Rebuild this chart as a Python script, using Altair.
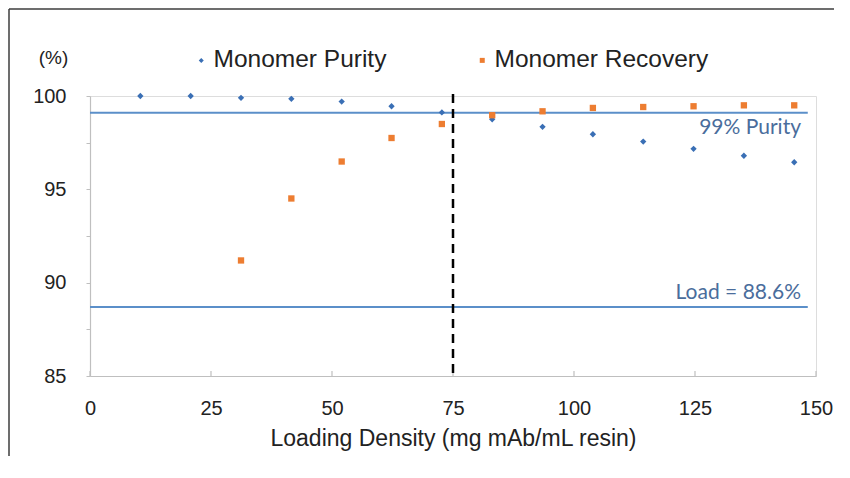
import altair as alt
import pandas as pd

# ---- data ----
loading = [10.4, 20.8, 31.2, 41.6, 52.0, 62.3, 72.7, 83.1, 93.5, 103.9, 114.3, 124.7, 135.1, 145.5]
purity = [100.0, 100.0, 99.9, 99.85, 99.7, 99.45, 99.12, 98.75, 98.35, 97.95, 97.56, 97.17, 96.8, 96.45]
recovery_loading = loading[2:]
recovery = [91.19, 94.51, 96.49, 97.75, 98.5, 98.97, 99.18, 99.36, 99.41, 99.45, 99.5, 99.5]
series_names = ["Monomer Purity", "Monomer Recovery"]
x_ticks = [0, 25, 50, 75, 100, 125, 150]
y_ticks = [85, 87.5, 90, 92.5, 95, 97.5, 100]
purity_line = 99.1
load_line = 88.7
cutoff = 75
line_end = 148.3

# ---- styling ----
FONT = "Liberation Sans"
ANNO_FONT = "Lato"
BLUE = "#3a6fb5"
ORANGE = "#ed7d31"
LINE_BLUE = "#5b8fc9"
ANNO_COLOR = "#4a6d9c"
AXIS_GREY = "#bfbfbf"
W, H = 726, 280
PAD = {"left": 82, "top": 88, "right": 24, "bottom": 85}

points = pd.DataFrame({
    "loading": loading + recovery_loading,
    "value": purity + recovery,
    "series": [series_names[0]] * len(purity) + [series_names[1]] * len(recovery),
})
ticks_df = pd.DataFrame({"loading": x_ticks})
one = pd.DataFrame({"a": [0]})

xscale = alt.Scale(domain=[0, 150], nice=False, zero=False)
yscale = alt.Scale(domain=[85, 100], nice=False, zero=False)

x_enc = alt.X(
    "loading:Q", scale=xscale, title="Loading Density (mg mAb/mL resin)",
    axis=alt.Axis(values=x_ticks, ticks=False, tickSize=0, labelPadding=22, labelFont=FONT,
                  labelFontSize=20, labelColor="#222", titleFont=FONT, titleFontSize=23,
                  titleFontWeight="normal", titleColor="#222", titlePadding=9,
                  domainColor=AXIS_GREY, domainWidth=1.2, grid=False, labelFlush=False),
)
y_enc = alt.Y(
    "value:Q", scale=yscale, title="(%)",
    axis=alt.Axis(values=y_ticks, labelExpr="datum.value % 5 == 0 ? datum.label : ''",
                  tickSize=4, tickColor=AXIS_GREY, domainColor=AXIS_GREY, domainWidth=1.2,
                  labelPadding=20, labelFont=FONT, labelFontSize=20, labelColor="#222",
                  grid=False, labelFlush=False, titleAngle=0, titleX=-37, titleY=-39,
                  titleAlign="center", titleBaseline="middle", titleFont=FONT,
                  titleFontSize=19, titleFontWeight="normal", titleColor="#222"),
)

legend = alt.Legend(title=None, orient="none", legendX=99, legendY=-48, direction="horizontal",
                    labelFont=FONT, labelFontSize=24.5, labelColor="#222", labelOffset=0,
                    labelLimit=0, columnPadding=83, symbolSize=25, symbolStrokeWidth=0,
                    symbolOpacity=1)

pts = alt.Chart(points).mark_point(filled=True, opacity=1, size=40).encode(
    x=x_enc,
    y=y_enc,
    color=alt.Color("series:N", scale=alt.Scale(domain=series_names, range=[BLUE, ORANGE]), legend=legend),
    shape=alt.Shape("series:N", scale=alt.Scale(domain=series_names, range=["diamond", "square"]), legend=legend),
)

xtick_marks = alt.Chart(ticks_df).mark_rule(color=AXIS_GREY, strokeWidth=1.2).encode(
    x=x_enc, y=alt.value(H - 5), y2=alt.value(H)
)

purity_rule = alt.Chart(one).mark_rule(color=LINE_BLUE, strokeWidth=2).encode(
    x=alt.datum(0), x2=alt.datum(line_end), y=alt.datum(purity_line)
)
load_rule = alt.Chart(one).mark_rule(color=LINE_BLUE, strokeWidth=2).encode(
    x=alt.datum(0), x2=alt.datum(line_end), y=alt.datum(load_line)
)
cut_rule = alt.Chart(one).mark_rule(color="black", strokeWidth=2.5, strokeDash=[9, 6]).encode(
    x=alt.datum(cutoff), y=alt.value(-2), y2=alt.value(H)
)
purity_text = alt.Chart(one).mark_text(align="right", baseline="middle", font=ANNO_FONT,
                                       fontSize=21, color=ANNO_COLOR).encode(
    x=alt.datum(146.9), y=alt.datum(98.3), text=alt.value("99% Purity")
)
load_text = alt.Chart(one).mark_text(align="right", baseline="middle", font=ANNO_FONT,
                                     fontSize=21, color=ANNO_COLOR).encode(
    x=alt.datum(146.9), y=alt.datum(89.45), text=alt.value("Load = 88.6%")
)
# outer frame edges (left and top), kept inside the drawing
frame_left = alt.Chart(one).mark_rule(color="#3c3c3c", strokeWidth=1.5).encode(
    x=alt.value(-81), y=alt.value(-87), y2=alt.value(H + 80)
)
frame_top = alt.Chart(one).mark_rule(color="#3c3c3c", strokeWidth=1.5).encode(
    x=alt.value(-81), x2=alt.value(W + 18), y=alt.value(-87)
)

chart = alt.layer(
    frame_left, frame_top, purity_rule, load_rule, xtick_marks, cut_rule,
    pts, purity_text, load_text
).properties(
    width=W, height=H,
    autosize=alt.AutoSizeParams(type="none"),
    padding=PAD,
).configure_view(stroke=None).configure(background="white")

chart.save("out.html", embed_options={"renderer": "svg", "actions": False})
